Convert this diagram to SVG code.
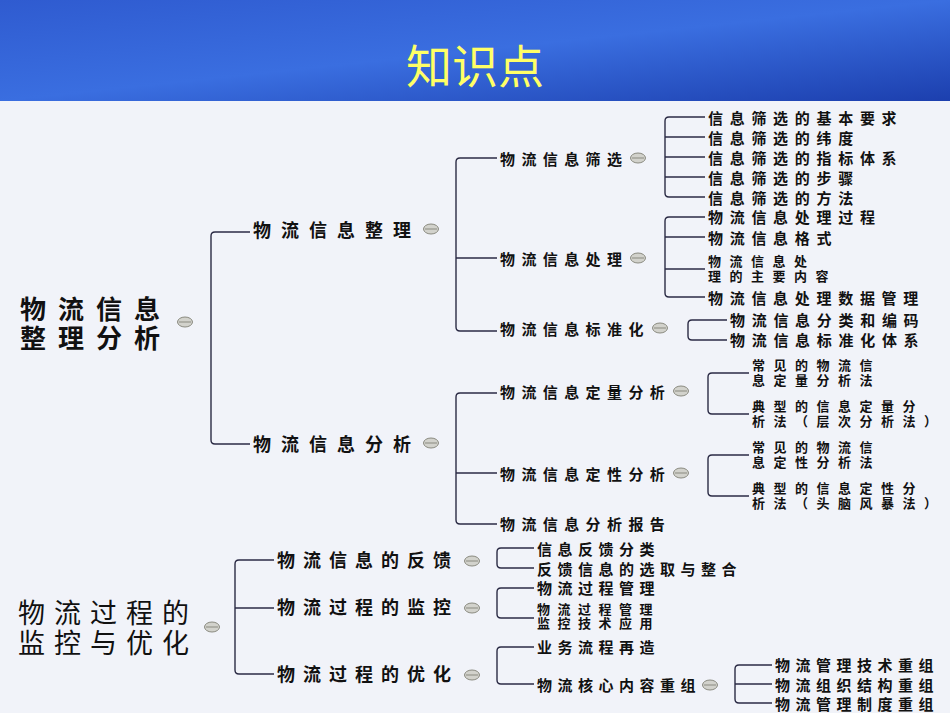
<svg xmlns="http://www.w3.org/2000/svg" width="950" height="713" viewBox="0 0 950 713">
<defs>
<linearGradient id="hd" x1="0" y1="0" x2="1" y2="1">
<stop offset="0" stop-color="#2f5bd0"/><stop offset="0.5" stop-color="#3a6ee0"/><stop offset="1" stop-color="#1c3fae"/>
</linearGradient>
<g id="ic"><ellipse cx="0" cy="0" rx="7.5" ry="5" fill="#d2d2cc" stroke="#8a8a80" stroke-width="1"/><line x1="-6" y1="0" x2="6" y2="0" stroke="#8a8a80" stroke-width="1"/></g>
</defs>
<style>
text{font-family:"Noto Sans CJK SC","Noto Sans",sans-serif;fill:#111;dominant-baseline:central}
.r{font-size:26px;font-weight:bold;letter-spacing:12px}
.r2{font-size:27px;letter-spacing:9px}
.a{font-size:18px;font-weight:bold;letter-spacing:10px}
.b{font-size:18px;font-weight:bold;letter-spacing:8px}
.m{font-size:15px;font-weight:bold;letter-spacing:6.4px}
.l{font-size:15px;font-weight:bold;letter-spacing:6.7px}
.t{font-size:13px;font-weight:bold;letter-spacing:8.5px}
.s{font-size:15px;font-weight:bold;letter-spacing:5.5px}
.s2{font-size:13px;font-weight:bold;letter-spacing:7.5px}
.c path{fill:none;stroke:#2b2b45;stroke-width:1.4}
</style>
<rect width="950" height="713" fill="#f1f3f9"/>
<rect width="950" height="101" fill="url(#hd)"/>
<text x="475" y="63" text-anchor="middle" style="font-size:46px;fill:#ffff66;font-family:'Noto Sans CJK SC',serif">知识点</text>

<g class="c" id="connectors">
<path d="M250,232 H215 Q211,232 211,236 V440 Q211,444 215,444 H250"/>
<path d="M497,158 H460 Q456,158 456,162 V327 Q456,331 460,331 H497 M456,258 H497"/>
<path d="M705,117 H669 Q665,117 665,121 V193 Q665,197 669,197 H705 M665,137 H705 M665,157 H705 M665,177 H705"/>
<path d="M705,217 H669 Q665,217 665,221 V293 Q665,297 669,297 H705 M665,237 H705 M665,269 H705"/>
<path d="M727,320 H692 Q688,320 688,324 V336 Q688,340 692,340 H727"/>
<path d="M497,393 H460 Q456,393 456,397 V520 Q456,524 460,524 H497 M456,473 H497"/>
<path d="M749,373 H712 Q708,373 708,377 V410 Q708,414 712,414 H749"/>
<path d="M749,455 H712 Q708,455 708,459 V492 Q708,496 712,496 H749"/>
<path d="M274,560 H239 Q235,560 235,564 V670 Q235,674 239,674 H274 M235,608 H274"/>
<path d="M534,548 H501 Q497,548 497,552 V564 Q497,568 501,568 H534"/>
<path d="M534,588 H501 Q497,588 497,592 V614 Q497,618 501,618 H534"/>
<path d="M534,647 H501 Q497,647 497,651 V680 Q497,684 501,684 H534"/>
<path d="M772,665 H739 Q735,665 735,669 V699 Q735,703 739,703 H772 M735,684 H772"/>
</g>

<g id="root1"><text class="r" x="20" y="307">物流信息</text><text class="r" x="20" y="336">整理分析</text><use href="#ic" x="185" y="322"/></g>
<g id="n-zl"><text class="a" x="253" y="229">物流信息整理</text><use href="#ic" x="431" y="229"/></g>
<g id="n-fx"><text class="a" x="253" y="443">物流信息分析</text><use href="#ic" x="431" y="443"/></g>
<g id="n-sx"><text class="m" x="500" y="158">物流信息筛选</text><use href="#ic" x="638" y="158"/></g>
<g id="n-cl"><text class="m" x="500" y="258">物流信息处理</text><use href="#ic" x="638" y="258"/></g>
<g id="n-bz"><text class="m" x="500" y="328">物流信息标准化</text><use href="#ic" x="660" y="328"/></g>
<g id="l1"><text class="l" x="708" y="117">信息筛选的基本要求</text></g>
<g id="l2"><text class="l" x="708" y="137">信息筛选的纬度</text></g>
<g id="l3"><text class="l" x="708" y="157">信息筛选的指标体系</text></g>
<g id="l4"><text class="l" x="708" y="177">信息筛选的步骤</text></g>
<g id="l5"><text class="l" x="708" y="197">信息筛选的方法</text></g>
<g id="l6"><text class="l" x="708" y="216">物流信息处理过程</text></g>
<g id="l7"><text class="l" x="708" y="237">物流信息格式</text></g>
<g id="l8"><text class="t" x="708" y="260">物流信息处</text><text class="t" x="708" y="275">理的主要内容</text></g>
<g id="l9"><text class="l" x="708" y="297">物流信息处理数据管理</text></g>
<g id="l10"><text class="l" x="730" y="319">物流信息分类和编码</text></g>
<g id="l11"><text class="l" x="730" y="339">物流信息标准化体系</text></g>
<g id="n-dl"><text class="m" x="500" y="391">物流信息定量分析</text><use href="#ic" x="681" y="391"/></g>
<g id="n-dx"><text class="m" x="500" y="473">物流信息定性分析</text><use href="#ic" x="681" y="473"/></g>
<g id="n-bg"><text class="m" x="500" y="523">物流信息分析报告</text></g>
<g id="l12"><text class="t" x="752" y="364">常见的物流信</text><text class="t" x="752" y="379">息定量分析法</text></g>
<g id="l13"><text class="t" x="752" y="405">典型的信息定量分</text><text class="t" x="752" y="420">析法（层次分析法）</text></g>
<g id="l14"><text class="t" x="752" y="446">常见的物流信</text><text class="t" x="752" y="461">息定性分析法</text></g>
<g id="l15"><text class="t" x="752" y="487">典型的信息定性分</text><text class="t" x="752" y="502">析法（头脑风暴法）</text></g>

<g id="root2"><text class="r2" x="18" y="611">物流过程的</text><text class="r2" x="18" y="641">监控与优化</text><use href="#ic" x="212" y="627"/></g>
<g id="n-fk"><text class="b" x="277" y="559">物流信息的反馈</text><use href="#ic" x="472" y="561"/></g>
<g id="n-jk"><text class="b" x="277" y="606">物流过程的监控</text><use href="#ic" x="472" y="608"/></g>
<g id="n-yh"><text class="b" x="277" y="673">物流过程的优化</text><use href="#ic" x="472" y="675"/></g>
<g id="l16"><text class="s" x="537" y="548">信息反馈分类</text></g>
<g id="l17"><text class="s" x="537" y="568">反馈信息的选取与整合</text></g>
<g id="l18"><text class="s" x="537" y="587">物流过程管理</text></g>
<g id="l19"><text class="s2" x="537" y="608">物流过程管理</text><text class="s2" x="537" y="622">监控技术应用</text></g>
<g id="l20"><text class="s" x="537" y="646">业务流程再造</text></g>
<g id="n-hx"><text class="s" x="537" y="684">物流核心内容重组</text><use href="#ic" x="710" y="685"/></g>
<g id="l21"><text class="s" x="775" y="664">物流管理技术重组</text></g>
<g id="l22"><text class="s" x="775" y="684">物流组织结构重组</text></g>
<g id="l23"><text class="s" x="775" y="703">物流管理制度重组</text></g>
</svg>
